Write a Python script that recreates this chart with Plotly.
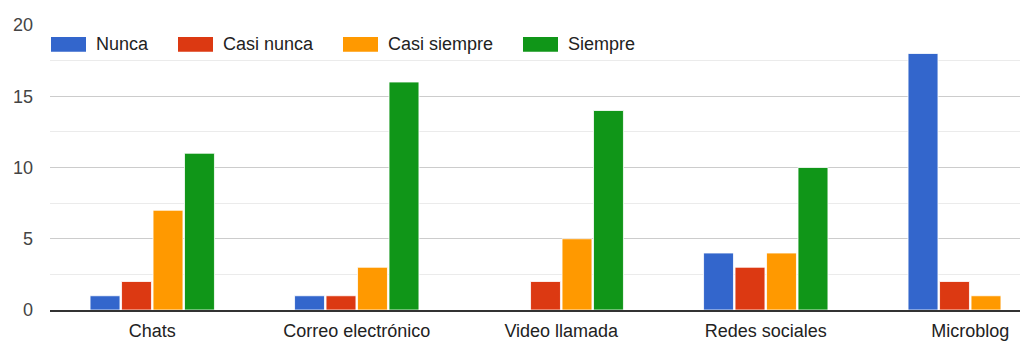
import plotly.graph_objects as go

# Survey answers per communication tool
categories = ["Chats", "Correo electrónico", "Video llamada", "Redes sociales", "Microblog"]
series_names = ["Nunca", "Casi nunca", "Casi siempre", "Siempre"]
nunca = [1, 1, 0, 4, 18]
casi_nunca = [2, 1, 2, 3, 2]
casi_siempre = [7, 3, 5, 4, 1]
siempre = [11, 16, 14, 10, 0]
y_ticks = [0, 5, 10, 15, 20]

series_values = [nunca, casi_nunca, casi_siempre, siempre]
colors = ["#3366CC", "#DC3912", "#FF9900", "#109618"]

W, H = 1020, 341
ML, MR, MT, MB = 50, 0, 25, 29
FONT = "Liberation Sans, Arial, sans-serif"

fig = go.Figure()
for name, vals, col in zip(series_names, series_values, colors):
    fig.add_trace(go.Bar(
        name=name, x=categories, y=vals,
        marker=dict(color=col, line=dict(color="rgba(255,255,255,0.8)", width=1)),
        showlegend=False,
    ))

# Legend drawn as wide swatches along the top of the plot area
plot_w = W - ML - MR
plot_h = H - MT - MB


def px_x(px):
    return (px - ML) / plot_w


def px_y(py):
    return (H - MB - py) / plot_h


swatch_left = [51, 178, 343, 523]
shapes = []
annotations = []
for name, col, left in zip(series_names, colors, swatch_left):
    shapes.append(dict(
        type="rect", xref="paper", yref="paper",
        x0=px_x(left), x1=px_x(left + 35), y0=px_y(52), y1=px_y(37),
        fillcolor=col, line=dict(width=0), layer="above",
    ))
    annotations.append(dict(
        xref="paper", yref="paper", x=px_x(left + 43), y=px_y(44.5),
        text=name, showarrow=False, xanchor="left", yanchor="middle",
        font=dict(family=FONT, size=18, color="#222222"),
    ))

fig.update_layout(
    width=W, height=H,
    margin=dict(l=ML, r=MR, t=MT, b=MB, pad=0),
    paper_bgcolor="white", plot_bgcolor="white",
    barmode="group", bargap=0.384, bargroupgap=0.05,
    font=dict(family=FONT, size=18, color="#222222"),
    shapes=shapes, annotations=annotations,
    xaxis=dict(
        range=[-0.5, -0.5 + plot_w / 204.5],
        showgrid=False, showline=True, linecolor="#333333", linewidth=1.5,
        ticks="", ticklabelstandoff=4,
        tickfont=dict(family=FONT, size=18, color="#222222"),
        fixedrange=True,
    ),
    yaxis=dict(
        range=[0, 20], tickvals=y_ticks, ticktext=[str(v) for v in y_ticks],
        showgrid=True, gridcolor="#cccccc", gridwidth=1,
        minor=dict(dtick=2.5, tick0=0, showgrid=True, gridcolor="#ebebeb", gridwidth=1),
        zeroline=False, showline=False, ticks="",
        ticklabelstandoff=16,
        tickfont=dict(family=FONT, size=18, color="#444444"),
        fixedrange=True,
    ),
)

fig.write_html("out.html", config={"displayModeBar": False})
